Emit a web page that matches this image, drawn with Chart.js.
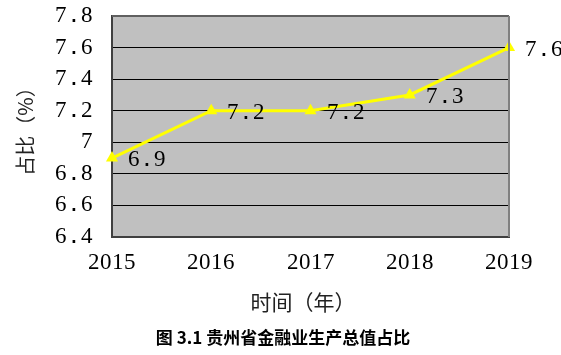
<!DOCTYPE html>
<html>
<head>
<meta charset="utf-8">
<style>
  /* digits from a serif face, the dot from a mono face so it is as wide as a digit */
  @font-face { font-family: 'NumSerif'; src: local('Liberation Serif'); }
  @font-face { font-family: 'NumSerif'; src: local('Liberation Mono'); unicode-range: U+002E; }
  html, body { margin: 0; padding: 0; background: #fff; }
  #wrap { width: 561px; height: 355px; }
</style>
<script src="https://cdn.jsdelivr.net/npm/chart.js@4/dist/chart.umd.min.js"></script>
</head>
<body>
<div id="wrap"><canvas id="share-chart"></canvas></div>
<script>
// Data
const years = ['2015', '2016', '2017', '2018', '2019'];
const shares = [6.9, 7.2, 7.2, 7.3, 7.6];
const yTickLabels = ['6.4', '6.6', '6.8', '7', '7.2', '7.4', '7.6', '7.8'];

const xTitle = '时间（年）';
const caption = '图 3.1 贵州省金融业生产总值占比';

const numFont = "NumSerif, 'Liberation Serif', serif";
const cjkFont = "'Noto Sans CJK SC', sans-serif";

// Grey plot area with a frame on top and right
const plotArea = {
    id: 'plotArea',
    beforeDraw(chart) {
        const {ctx, chartArea: a} = chart;
        ctx.save();
        ctx.fillStyle = '#c0c0c0';
        ctx.fillRect(a.left, a.top, a.right - a.left, a.bottom - a.top);
        ctx.restore();
    },
    afterDraw(chart) {
        const {ctx, chartArea: a} = chart;
        ctx.save();
        ctx.strokeStyle = '#606060';
        ctx.lineWidth = 2;
        ctx.beginPath();
        ctx.moveTo(a.left, a.top);
        ctx.lineTo(a.right, a.top);
        ctx.stroke();
        ctx.strokeStyle = '#808080';
        ctx.beginPath();
        ctx.moveTo(a.right, a.top);
        ctx.lineTo(a.right, a.bottom);
        ctx.stroke();
        ctx.restore();
    }
};

// Value labels to the right of each point
const valueLabels = {
    id: 'valueLabels',
    afterDatasetsDraw(chart) {
        const {ctx} = chart;
        const meta = chart.getDatasetMeta(0);
        ctx.save();
        ctx.font = '23px ' + numFont;
        ctx.fillStyle = '#000';
        ctx.textAlign = 'left';
        ctx.textBaseline = 'middle';
        meta.data.forEach((pt, i) => {
            ctx.fillText(String(shares[i]), pt.x + 16, pt.y + 2);
        });
        ctx.restore();
    }
};

// X axis title and figure caption below the chart
const bottomTexts = {
    id: 'bottomTexts',
    afterDraw(chart) {
        const {ctx} = chart;
        ctx.save();
        ctx.textAlign = 'center';
        ctx.textBaseline = 'middle';
        ctx.fillStyle = '#222';
        ctx.font = '21px ' + cjkFont;
        ctx.fillText(xTitle, 303, 302);
        ctx.fillStyle = '#000';
        ctx.font = 'bold 17px ' + cjkFont;
        ctx.fillText(caption, 283, 338);
        ctx.restore();
    }
};

function drawChart() {
    const ctx = document.getElementById('share-chart').getContext('2d');
    new Chart(ctx, {
        type: 'line',
        data: {
            labels: years,
            datasets: [{
                data: shares,
                borderColor: '#ffff00',
                backgroundColor: '#ffff00',
                borderWidth: 3,
                pointStyle: 'triangle',
                pointRadius: 7,
                pointBorderWidth: 0,
                tension: 0
            }]
        },
        options: {
            responsive: true,
            maintainAspectRatio: false,
            animation: false,
            layout: {
                padding: {top: 16, right: 52, left: 0, bottom: 30}
            },
            plugins: {
                legend: {display: false},
                tooltip: {enabled: false}
            },
            scales: {
                x: {
                    type: 'category',
                    offset: false,
                    grid: {display: false, drawTicks: false},
                    border: {display: true, color: '#404040', width: 2},
                    ticks: {
                        color: '#000',
                        padding: 12,
                        maxRotation: 0,
                        font: {family: numFont, size: 23}
                    },
                    afterFit: scale => { scale.height = 88; }
                },
                y: {
                    min: 6.4,
                    max: 7.8,
                    grid: {color: '#000', lineWidth: 1, drawTicks: true, tickLength: 17, tickColor: 'rgba(0,0,0,0)'},
                    border: {display: true, color: '#404040', width: 2},
                    ticks: {
                        stepSize: 0.2,
                        autoSkip: false,
                        color: '#000',
                        padding: 2,
                        font: {family: numFont, size: 23},
                        callback: (value, index) => yTickLabels[index]
                    },
                    title: {
                        display: true,
                        text: '占比（%）',
                        color: '#222',
                        font: {family: cjkFont, size: 20, lineHeight: 1.2},
                        padding: {top: 13, bottom: 0}
                    },
                    afterFit: scale => { scale.width = 112; }
                }
            }
        },
        plugins: [plotArea, valueLabels, bottomTexts]
    });
}

document.fonts.load('23px NumSerif', '7.8').then(drawChart, drawChart);
</script>
</body>
</html>
